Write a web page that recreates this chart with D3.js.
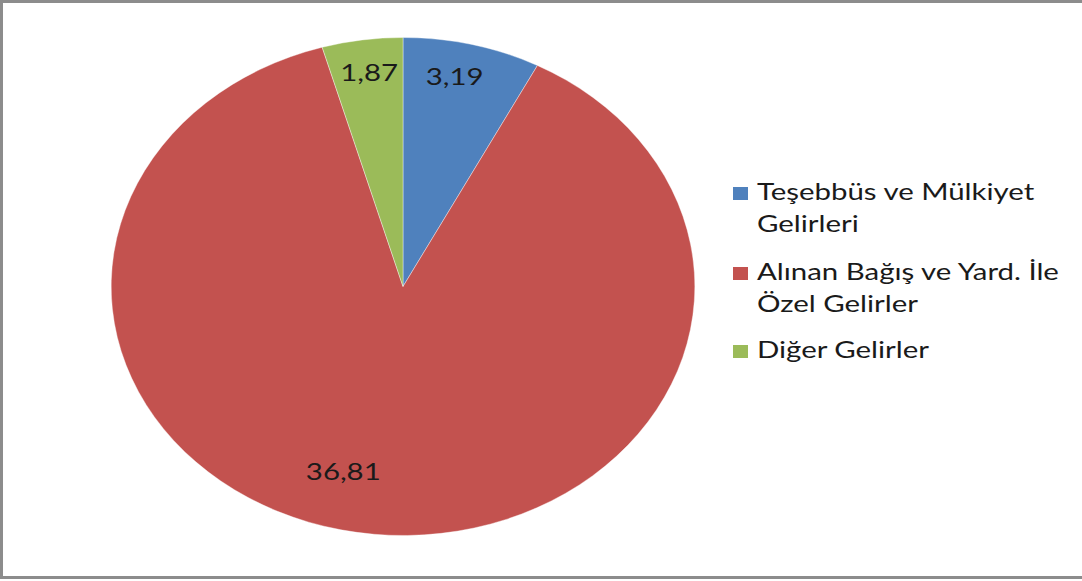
<!DOCTYPE html>
<html>
<head>
<meta charset="utf-8">
<script src="https://cdn.jsdelivr.net/npm/d3@7"></script>
<style>
  html, body { margin: 0; padding: 0; background: #fff; }
  svg { display: block; }
</style>
</head>
<body>
<div id="chart"></div>
<script>
var categories = ['Teşebbüs ve Mülkiyet Gelirleri', 'Alınan Bağış ve Yard. İle Özel Gelirler', 'Diğer Gelirler'];
var values = [3.19, 36.81, 1.87];
var valueLabels = ['3,19', '36,81', '1,87'];
var legendLines = [['Teşebbüs ve Mülkiyet', 'Gelirleri'], ['Alınan Bağış ve Yard. İle', 'Özel Gelirler'], ['Diğer Gelirler']];
var colors = ['#4f81bd', '#c3524f', '#9bbb59'];

var width = 1082;
var height = 581;
var stretch = 1.172;      // the reference pie is stretched horizontally
var textStretch = 1.225;  // and so is its lettering
var radius = 249;
var cx = 403, cy = 286.5;
var font = 'Lato, "Open Sans", sans-serif';

var svg = d3.select('#chart')
  .append('svg')
    .attr('width', width)
    .attr('height', height);

// outer frame
svg.append('rect')
  .attr('x', 1.5)
  .attr('y', 1.5)
  .attr('width', width + 10)
  .attr('height', 576)
  .attr('fill', 'none')
  .attr('stroke', '#8c8c8c')
  .attr('stroke-width', 3);

var pie = d3.pie().sort(null).value(d => d);
var arcs = pie(values);

var arc = d3.arc().innerRadius(0).outerRadius(radius);

var g = svg.append('g')
  .attr('transform', `translate(${cx}, ${cy}) scale(${stretch}, 1)`);

g.selectAll('.slice')
  .data(arcs)
  .enter()
    .append('path')
    .attr('class', 'slice')
    .attr('d', arc)
    .attr('fill', (d, i) => colors[i])
    .attr('stroke', '#ffffff')
    .attr('stroke-opacity', 0.6)
    .attr('stroke-width', 0.6);

// label placement: radius fraction and angle shift (radians), best-fit like the source
var labelFit = [{ r: 0.86, shift: -0.032 }, { r: 0.77, shift: 0.17 }, { r: 0.865, shift: 0.006 }];

g.selectAll('.lbl')
  .data(arcs)
  .enter()
    .append('text')
    .attr('class', 'lbl')
    .attr('transform', (d, i) => {
      var a = (d.startAngle + d.endAngle) / 2 + labelFit[i].shift;
      var r = radius * labelFit[i].r;
      return `translate(${Math.sin(a) * r}, ${-Math.cos(a) * r}) scale(${textStretch / stretch}, 1)`;
    })
    .attr('text-anchor', 'middle')
    .attr('dy', '0.35em')
    .style('font-family', font)
    .style('font-size', '24px')
    .style('fill', '#1a1a1a')
    .text((d, i) => valueLabels[i]);

// legend
var legend = svg.append('g')
  .attr('transform', 'translate(733, 0)');

var itemY = [200, 280, 358];

var items = legend.selectAll('.item')
  .data(categories)
  .enter()
    .append('g')
    .attr('class', 'item')
    .attr('transform', (d, i) => `translate(0, ${itemY[i]})`);

items.append('rect')
  .attr('x', 0)
  .attr('y', -13)
  .attr('width', 15)
  .attr('height', 13)
  .attr('fill', (d, i) => colors[i]);

items.append('g')
  .attr('transform', `translate(24, 0) scale(${textStretch}, 1)`)
  .each(function (d, i) {
    var t = d3.select(this).append('text')
      .style('font-family', font)
      .style('font-size', '24px')
      .style('fill', '#1a1a1a');
    legendLines[i].forEach((line, j) => {
      t.append('tspan')
        .attr('x', 0)
        .attr('y', j * 32)
        .text(line);
    });
  });
</script>
</body>
</html>
